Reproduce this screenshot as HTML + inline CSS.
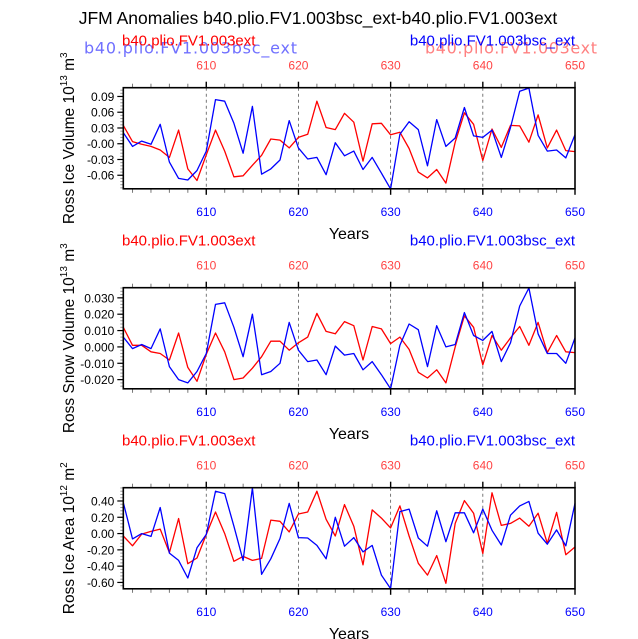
<!DOCTYPE html>
<html><head><meta charset="utf-8">
<style>
html,body{margin:0;padding:0;background:#fff;}
svg{display:block;font-family:"Liberation Sans",sans-serif;}
</style></head>
<body>
<svg id="chart" width="638" height="639" viewBox="0 0 638 639" xmlns="http://www.w3.org/2000/svg">
<text x="318" y="24" font-size="17.5" text-anchor="middle">JFM Anomalies b40.plio.FV1.003bsc_ext-b40.plio.FV1.003ext</text>
</svg>
<script>
const years = [];
for (let y = 601; y <= 650; y++) years.push(y);
const xTicks = [610, 620, 630, 640, 650];

const iceVolBsc = [0.021,-0.005,0.005,-0.001,0.037,-0.035,-0.066,-0.069,-0.051,-0.014,0.084,0.081,0.039,-0.018,0.071,-0.058,-0.048,-0.031,0.044,-0.008,-0.029,-0.026,-0.059,0.002,-0.023,-0.014,-0.049,-0.026,-0.056,-0.086,0.018,0.042,0.027,-0.042,0.046,-0.005,0.011,0.069,0.015,0.012,0.026,-0.026,0.031,0.100,0.106,0.016,-0.014,-0.012,-0.027,0.017];
const iceVolExt = [0.035,0.004,-0.001,-0.005,-0.012,-0.026,0.026,-0.048,-0.070,-0.021,0.026,-0.014,-0.063,-0.061,-0.041,-0.022,0.009,0.007,-0.008,0.012,0.018,0.081,0.031,0.027,0.058,0.041,-0.033,0.038,0.039,0.017,0.022,-0.009,-0.054,-0.065,-0.049,-0.075,0.003,0.059,0.037,-0.032,0.028,-0.007,0.035,0.034,0.003,0.055,-0.008,0.026,-0.013,-0.015];
const iceVolTicks = [0.09,0.06,0.03,0.00,-0.03,-0.06];
const iceVolTickLabels = ["0.09","0.06","0.03","-0.00","-0.03","-0.06"];

const snowBsc = [0.006,-0.001,0.0015,-0.001,0.011,-0.012,-0.020,-0.022,-0.015,-0.004,0.026,0.027,0.012,-0.006,0.020,-0.017,-0.015,-0.010,0.015,-0.002,-0.009,-0.008,-0.017,0.0005,-0.005,-0.004,-0.014,-0.009,-0.017,-0.0256,0.001,0.014,0.0105,-0.012,0.013,0.000,0.0015,0.021,0.007,0.004,0.0095,-0.009,0.0025,0.025,0.036,0.008,-0.004,-0.004,-0.010,0.0055];
const snowExt = [0.012,0.001,0.001,-0.003,-0.004,-0.008,0.0085,-0.0125,-0.021,-0.0045,0.0085,-0.003,-0.020,-0.019,-0.013,-0.006,0.0035,0.0035,-0.002,0.0025,0.006,0.0205,0.0095,0.008,0.0155,0.013,-0.008,0.0125,0.011,0.002,0.006,-0.0015,-0.0155,-0.019,-0.014,-0.022,0.000,0.019,0.012,-0.011,0.007,-0.002,0.0055,0.0125,0.001,0.015,-0.0035,0.007,-0.003,-0.0035];
const snowTicks = [0.03,0.02,0.01,0,-0.01,-0.02];
const snowTickLabels = ["0.030","0.020","0.010","0.000","-0.010","-0.020"];

const areaBsc = [0.38,-0.065,0.00,-0.035,0.32,-0.24,-0.33,-0.545,-0.175,-0.01,0.52,0.49,0.09,-0.33,0.56,-0.50,-0.31,-0.06,0.37,-0.05,-0.055,-0.145,-0.31,0.20,-0.155,-0.05,-0.225,-0.145,-0.51,-0.675,0.27,0.30,-0.055,-0.155,0.28,-0.10,0.255,0.255,0.01,0.30,0.04,-0.14,0.225,0.34,0.395,0.005,-0.13,0.045,-0.15,0.37];
const areaExt = [-0.03,-0.15,-0.006,0.027,0.055,-0.235,0.185,-0.37,-0.30,-0.01,0.265,0.00,-0.34,-0.28,-0.33,-0.305,0.165,0.15,0.02,0.24,0.265,0.52,0.175,-0.03,0.355,0.09,-0.385,0.29,0.19,0.07,0.34,-0.03,-0.365,-0.51,-0.27,-0.61,0.125,0.405,0.25,-0.245,0.50,0.10,0.125,0.19,0.09,0.25,-0.12,0.26,-0.26,-0.165];
const areaTicks = [0.4,0.2,0,-0.2,-0.4,-0.6];
const areaTickLabels = ["0.40","0.20","0.00","-0.20","-0.40","-0.60"];

const NS = "http://www.w3.org/2000/svg";
const svg = document.getElementById("chart");
function mk(tag, attrs, parent) {
  const e = document.createElementNS(NS, tag);
  for (const k in attrs) e.setAttribute(k, attrs[k]);
  (parent || svg).appendChild(e);
  return e;
}
const X0 = 123.3, X1 = 575;
const xScale = yr => X0 + (yr - 601) / 49 * (X1 - X0);

const panels = [
  {top:87.7, bot:188.8, min:-0.0858, max:0.1067, bsc:iceVolBsc, ext:iceVolExt, ticks:iceVolTicks, labels:iceVolTickLabels, name:"ice-volume", title:"Ross Ice Volume 10", exp:"13", unit:" m", uexp:"3", ghost:true},
  {top:287.7, bot:388.8, min:-0.0256, max:0.0362, bsc:snowBsc, ext:snowExt, ticks:snowTicks, labels:snowTickLabels, name:"snow-volume", title:"Ross Snow Volume 10", exp:"13", unit:" m", uexp:"3", ghost:false},
  {top:487.7, bot:588.8, min:-0.678, max:0.563, bsc:areaBsc, ext:areaExt, ticks:areaTicks, labels:areaTickLabels, name:"ice-area", title:"Ross Ice Area 10", exp:"12", unit:" m", uexp:"2", ghost:false}
];

panels.forEach(p => {
  const g = mk("g", {});
  
  
  const yS = v => p.bot - (v - p.min) / (p.max - p.min) * (p.bot - p.top);
  const hy = p.top - 42;
  if (p.ghost) {
    const g1 = mk("text", {x:84, y:hy+8, "font-size":16, fill:"#7070ff", "font-family":"DejaVu Sans, sans-serif", textLength:213}, g);
    g1.textContent = "b40.plio.FV1.003bsc_ext";
    
    
    const g2 = mk("text", {x:425, y:hy+8, "font-size":16, fill:"#ff8080", "font-family":"DejaVu Sans, sans-serif", textLength:172}, g);
    g2.textContent = "b40.plio.FV1.003ext";
    
    
  }
  const h1 = mk("text", {x:122, y:hy, "font-size":15, fill:"#f00"}, g);
  h1.textContent = "b40.plio.FV1.003ext";
  
  
  const h2 = mk("text", {x:575, y:hy, "font-size":15, fill:"#00f", "text-anchor":"end"}, g);
  h2.textContent = "b40.plio.FV1.003bsc_ext";
  
  
  xTicks.forEach(t => {
    const a = mk("text", {x:xScale(t), y:p.top-18, "font-size":12, fill:"#f44", "text-anchor":"middle"}, g);
    a.textContent = t;
    
    
    const b = mk("text", {x:xScale(t), y:p.bot+27, "font-size":12, fill:"#00f", "text-anchor":"middle"}, g);
    b.textContent = t;
    
    
  });
  const xt = mk("text", {x:349, y:p.bot+50, "font-size":16, "text-anchor":"middle"}, g);
  xt.textContent = "Years";
  
  
  const yt = mk("text", {transform:`translate(74,${(p.top+p.bot)/2}) rotate(-90)`, "font-size":15.5, "text-anchor":"middle"}, g);
  
  
  yt.innerHTML = `${p.title}<tspan dy="-7" font-size="10">${p.exp}</tspan><tspan dy="7">${p.unit}</tspan><tspan dy="-7" font-size="10">${p.uexp}</tspan>`;
  [610,620,630,640].forEach(t => {
    const l = mk("line", {x1:xScale(t), x2:xScale(t), y1:p.top, y2:p.bot, stroke:"#555", "stroke-width":0.8, "stroke-dasharray":"3,3"}, g);
    
    
  });
  for (let yr = 602; yr <= 650; yr += 2) {
    const major = yr % 10 === 0;
    const len = major ? 6 : 4;
    mk("line", {x1:xScale(yr), x2:xScale(yr), y1:p.top, y2:p.top-len, stroke:major?"#000":"#777", "stroke-width":major?1.4:1}, g);
    mk("line", {x1:xScale(yr), x2:xScale(yr), y1:p.bot, y2:p.bot+len, stroke:major?"#000":"#777", "stroke-width":major?1.4:1}, g);
  }
  const step = p.ticks[0] - p.ticks[1];
  for (let v = p.ticks[p.ticks.length-1] - step; v <= p.max + 1e-9; v += step/5) {
    if (v < p.min) continue;
    mk("line", {x1:X0, x2:X0-3, y1:yS(v), y2:yS(v), stroke:"#999", "stroke-width":1}, g);
  }
  p.ticks.forEach((v, i) => {
    mk("line", {x1:X0, x2:X0-6, y1:yS(v), y2:yS(v), stroke:"#000", "stroke-width":1.2}, g);
    const t = mk("text", {x:X0-9, y:yS(v)+4.5, "font-size":12, "text-anchor":"end"}, g);
    t.textContent = p.labels[i];
    
    
  });
  const pts = arr => arr.map((v, i) => xScale(years[i]).toFixed(1) + "," + yS(v).toFixed(1)).join(" ");
  const rl = mk("polyline", {points:pts(p.ext), fill:"none", stroke:"#f00", "stroke-width":1.3, "stroke-linejoin":"round"}, g);
  
  
  const bl = mk("polyline", {points:pts(p.bsc), fill:"none", stroke:"#00f", "stroke-width":1.3, "stroke-linejoin":"round"}, g);
  
  
  const fr = mk("rect", {x:X0, y:p.top, width:X1-X0, height:p.bot-p.top, fill:"none", stroke:"#000", "stroke-width":1.6}, g);
  
  
});
</script>
</body></html>
